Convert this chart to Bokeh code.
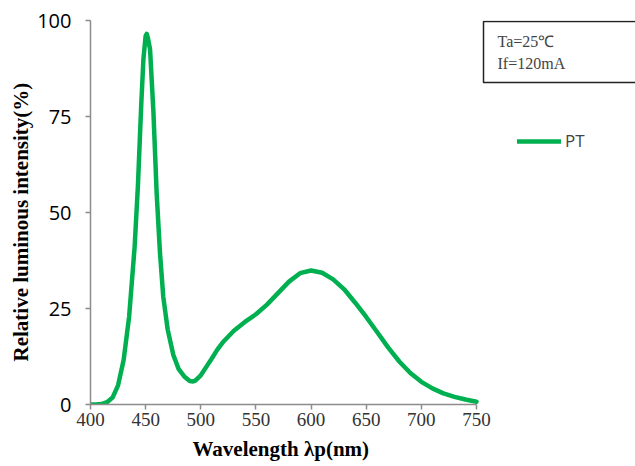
from bokeh.plotting import figure
from bokeh.models import Range1d, FixedTicker, Legend, LegendItem, Label, Title
from bokeh.embed import file_html
from bokeh.resources import INLINE

wavelength = [400, 405, 410, 415, 420, 425, 430, 435, 440, 443, 446, 448, 450, 451, 452, 454,
              457, 460, 463, 466, 470, 475, 480, 485, 490, 493, 495, 500, 505, 510, 515, 520,
              530, 540, 550, 560, 570, 580, 590, 600, 610, 620, 630, 640, 650, 660, 670, 680,
              690, 700, 710, 720, 730, 740, 750]
intensity = [0, 0, 0.1, 0.6, 1.8, 5, 11.5, 22.8, 41, 57, 78, 90, 96, 96.5, 95.5, 92.5,
             76.5, 55, 39.5, 28, 19.5, 13, 9.2, 7.3, 6.1, 6.0, 6.2, 7.6, 9.8, 12, 14.3, 16.2,
             19.2, 21.5, 23.5, 26, 29, 32, 34.2, 34.9, 34.3, 32.6, 30, 26.5, 22.8, 18.8, 14.8, 11.2,
             8.2, 5.9, 4.2, 2.9, 2.0, 1.3, 0.7]
x_ticks = [400, 450, 500, 550, 600, 650, 700, 750]
y_ticks = [0, 25, 50, 75, 100]
series_name = "PT"
x_title = "Wavelength \u03bbp(nm)"
y_title = "Relative luminous intensity(%)"
note_text = "Ta=25\u2103\nIf=120mA"

# frame spans 90..635 px; axis 400..750 occupies 90..476 px
X0, X1 = 400, 750
frame_w, axis_w = 545, 386
x_end = X0 + (X1 - X0) * frame_w / axis_w

p = figure(width=635, height=466, output_backend="svg", toolbar_location=None,
           x_range=Range1d(X0, x_end), y_range=Range1d(0, 100),
           min_border_left=90, min_border_right=0, min_border_top=20, min_border_bottom=61)
p.outline_line_color = None
p.xgrid.visible = False
p.ygrid.visible = False
p.background_fill_color = "white"
p.border_fill_color = "white"

axis_col = "#8c8c8c"
for ax in (p.xaxis[0], p.yaxis[0]):
    ax.axis_line_color = axis_col
    ax.axis_line_width = 1.5
    ax.major_tick_line_color = axis_col
    ax.major_tick_line_width = 1.5
    ax.major_tick_out = 5
    ax.major_tick_in = 0
    ax.minor_tick_line_color = None

p.xaxis.bounds = (X0, X1)
p.xaxis.ticker = FixedTicker(ticks=x_ticks)
p.yaxis.ticker = FixedTicker(ticks=y_ticks)
p.xaxis.major_label_text_font = "Liberation Serif"
p.xaxis.major_label_text_font_size = "19px"
p.xaxis.major_label_text_color = "#333333"
p.xaxis.major_label_standoff = 3

p.yaxis.major_label_text_font = "Open Sans"
p.yaxis.major_label_text_font_size = "20px"
p.yaxis.major_label_text_color = "black"
p.yaxis.major_label_standoff = 14

xt = Title(text=x_title, align="left", offset=102, standoff=12, vertical_align="bottom",
           text_font="Liberation Serif", text_font_style="bold", text_font_size="21px",
           text_color="black")
p.add_layout(xt, "below")

yt = Title(text=y_title, align="left", offset=43, standoff=4,
           text_font="Liberation Serif", text_font_style="bold", text_font_size="21px",
           text_color="black")
p.add_layout(yt, "left")

r = p.line(wavelength, intensity, line_color="#00b050", line_width=4.5, line_join="round", line_cap="round")

legend = Legend(items=[LegendItem(label=series_name, renderers=[r])],
                location=(427, 252), padding=0, margin=0, spacing=0,
                glyph_width=44, glyph_height=20, label_height=20, label_standoff=4,
                label_text_font="Open Sans", label_text_font_size="17px",
                border_line_color=None, background_fill_alpha=0)
p.add_layout(legend)

note = Label(x=393, y=383, x_units="screen", y_units="screen", text=note_text,
             anchor="top_left", text_font="Liberation Serif", text_font_size="16px",
             text_line_height=1.3,
             border_line_color="#222222", border_line_width=1.5,
             background_fill_color="white",
             padding=dict(top=11, right=80, bottom=11, left=14))
p.add_layout(note)

open("out.html", "w").write(file_html(p, INLINE))
